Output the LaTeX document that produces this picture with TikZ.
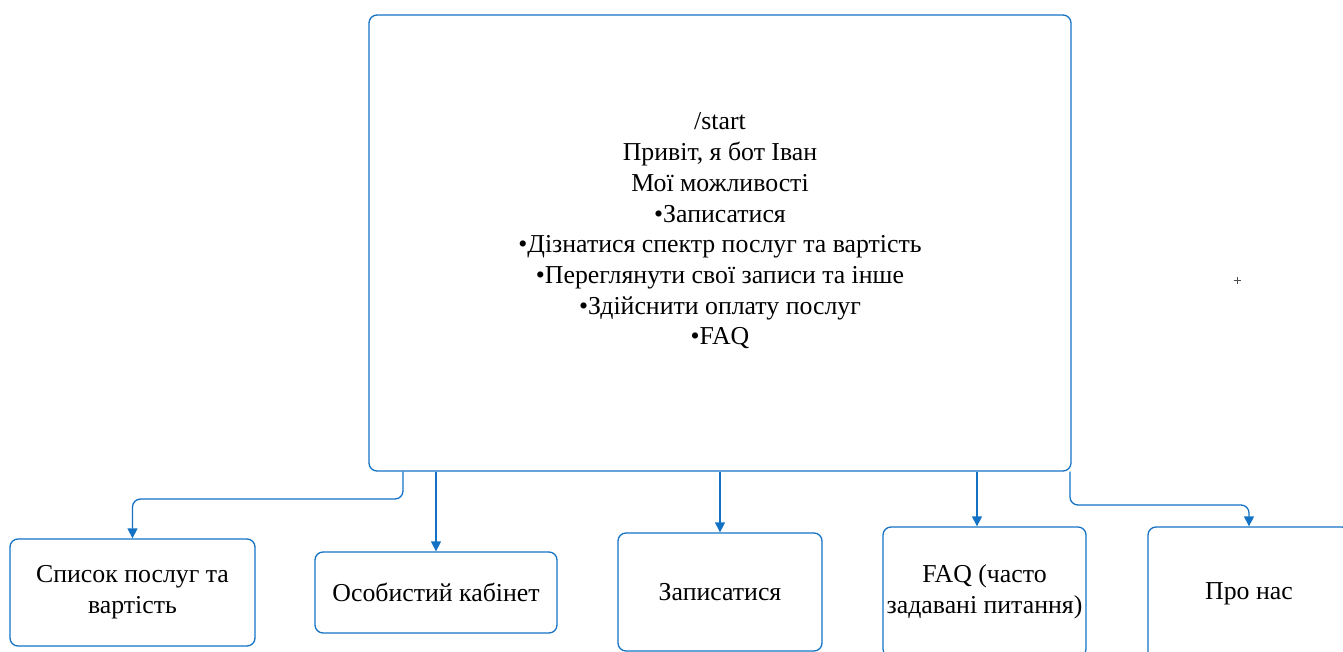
\documentclass[tikz,border=0pt]{standalone}
\usepackage{fontspec}
\setmainfont{Liberation Serif}
\usetikzlibrary{arrows.meta}
\definecolor{lineblue}{RGB}{20,114,196}
\begin{document}
\begin{tikzpicture}[x=1pt,y=-1pt,
  box/.style={draw=lineblue,line width=1.3pt,rounded corners=8pt,fill=white,
    inner sep=0pt,align=center,font=\fontsize{25.8}{30.7}\selectfont},
  link/.style={draw=lineblue,line width=1.3pt,rounded corners=8pt,
    -{Triangle[width=10pt,length=10pt]}},
  txt/.style={align=center,inner sep=0pt,font=\fontsize{25.8}{30.7}\selectfont}]
\path[use as bounding box] (0,0) rectangle (1343,652);
\clip (0,0) rectangle (1343,652);

% start screen
\node[box,minimum width=702pt,minimum height=456pt] (main) at (720,243) {};
\node[txt] (greeting) at (720,231) {/start\\Привіт, я бот Іван\\Мої можливості\\•Записатися\\•Дізнатися спектр послуг та вартість\\•Переглянути свої записи та інше\\•Здійснити оплату послуг\\•FAQ};

% menu items
\node[box,minimum width=245pt,minimum height=107pt] (list) at (132.5,592.5) {Список послуг та\\вартість};
\node[box,minimum width=242pt,minimum height=81pt] (cabinet) at (436,592.5) {Особистий кабінет};
\node[box,minimum width=204pt,minimum height=118pt] (signup) at (720,592) {Записатися};
\node[box,minimum width=203pt,minimum height=130pt] (faq) at (984.5,592) {FAQ (часто\\задавані питання)};
\node[box,minimum width=202pt,minimum height=134pt] (about) at (1249,594) {Про нас};

% connectors
\coordinate (r1) at (403,499);
\coordinate (r5) at (1070,505);
\draw[link] (main.south -| 403,0) -- (r1) -- (r1 -| list.north) -- (list.north);
\draw[link] (main.south -| cabinet.north) -- (cabinet.north);
\draw[link] (main.south -| signup.north) -- (signup.north);
\draw[link] (main.south -| 977,0) -- (faq.north -| 977,0);
\draw[link] (main.south -| 1070,0) -- (r5) -- (r5 -| about.north) -- (about.north);

% small cross mark
\coordinate (mark) at (1237,280);
\draw[black!70,line width=0.8pt] ([xshift=-3.5pt]mark) -- ([xshift=3.5pt]mark)
  ([yshift=-3.5pt]mark) -- ([yshift=3.5pt]mark);
\end{tikzpicture}
\end{document}
